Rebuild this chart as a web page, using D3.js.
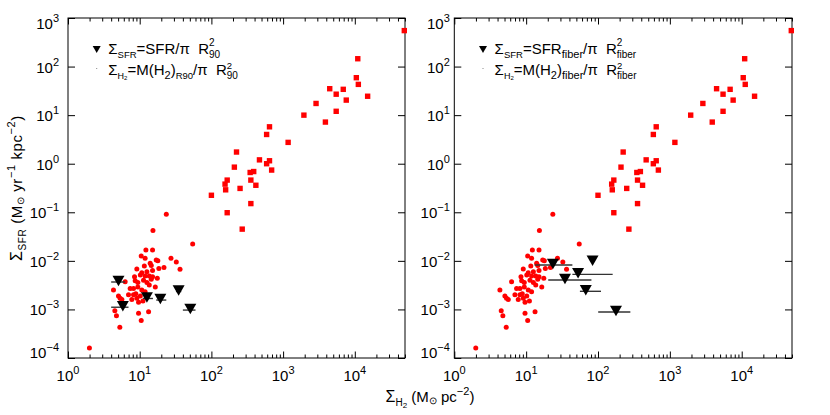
<!DOCTYPE html>
<html><head><meta charset="utf-8">
<script src="https://cdn.jsdelivr.net/npm/d3@7"></script>
<style>
body{margin:0;background:#fff}
text{font-family:"Liberation Sans",Arial,Helvetica,sans-serif;fill:#000}
</style>
</head><body><svg id="c" width="830" height="415"></svg>
<script>
// ---------- DATA ----------
// high-surface-density comparison sample (squares): Sigma_H2 [Msun/pc^2], Sigma_SFR [Msun/yr/kpc^2]
const sqX = [49000,11000,10500,11200,4470,6900,5500,15100,7600,2880,5500,1950,3890,646,589,1175,224,468,646,589,209,692,389,347,166,355,155,417,158,251,100,355,166,269];
const sqY = [550,145,59,43,35,34,27,24.5,20.4,17.4,12,10,7.2,5.75,4.0,2.75,1.74,1.2,1.15,1.0,0.85,0.74,0.69,0.66,0.46,0.46,0.38,0.36,0.29,0.31,0.224,0.151,0.098,0.045];
// low-surface-density comparison sample (circles)
const ciX = [1.99,15.3,54.8,12.2,15.1,10.5,11.9,27.3,32.4,14.0,17.0,17.9,9.12,11.6,14.5,18.5,21.8,36.5,10.7,12.6,15.1,8.47,10.2,11.9,13.6,15.1,17.6,8.65,6.27,11.3,14.5,9.42,12.6,13.6,16.5,4.31,7.36,8.20,9.42,10.7,5.06,6.98,8.20,8.83,10.2,11.9,5.33,7.76,9.12,9.64,11.1,4.50,4.74,9.64,13.3,10.5,5.28,5.64,23.5];
const ciY = [1.6e-4,0.042,0.0222,0.0167,0.0167,0.0126,0.0113,0.0113,0.0095,0.0089,0.0104,0.0101,0.0068,0.0078,0.0080,0.0070,0.0073,0.0067,0.0057,0.0060,0.0063,0.0047,0.0051,0.0049,0.0049,0.0047,0.0044,0.0039,0.0037,0.0040,0.0042,0.0036,0.0036,0.0032,0.0029,0.0025,0.0027,0.0027,0.0029,0.0025,0.0019,0.0020,0.0020,0.0021,0.0019,0.0023,0.0017,0.0016,0.0017,0.0014,0.0015,0.00094,0.00074,0.00083,0.00090,0.00059,0.00043,0.0016,0.091];
// upper limits, R90 apertures (left panel)
const tLX   = [5.06,5.82,12.6,19.4,34.9,50.8];
const tLY   = [0.00367,0.00111,0.00168,0.00156,0.00234,0.00097];
const tLXlo = [4.0,4.0,11.1,17.0,32.0,40.0];
const tLXhi = [6.27,6.98,15.3,23.5,38.0,60.0];
// upper limits, fiber apertures (right panel)
const tRX   = [23.6,84,52.8,34.7,67.6,178];
const tRY   = [0.00822,0.0096,0.00528,0.00404,0.00236,0.000885];
const tRXlo = [13.1,84,44,20.3,56,100.6];
const tRXhi = [44,84,160,81,110,282];
// axes
const xDomain = [1, Math.pow(10,4.7)];
const yDomain = [1e-4, 1e3];
const xMajor = [1,10,100,1000,10000];
const xMajorExp = ["0","1","2","3","4"];
const yMajor = [1e-4,1e-3,1e-2,1e-1,1,10,100,1000];
const yMajorExp = ["\u22124","\u22123","\u22122","\u22121","0","1","2","3"];

// ---------- DRAW ----------
const svg = d3.select("#c");
svg.append("rect").attr("width",830).attr("height",415).attr("fill","#fff");
const NB = "\u00a0";

function rich(parent, x, y, parts, opts = {}) {
  const g = parent.append("g");
  let cx = 0, prevStart = 0;
  parts.forEach(p => {
    const start = p.stack ? prevStart : cx;
    const t = g.append("text").attr("x", start).attr("y", p.dy || 0)
      .style("font-size", p.s + "px").text(p.t);
    if (opts.ls) t.style("letter-spacing", opts.ls + "px");
    const w = t.node().getComputedTextLength();
    if (p.stack) cx = Math.max(cx, start + w);
    else { prevStart = start; cx = start + w; }
  });
  let off = 0;
  if (opts.anchor === "middle") off = -cx / 2;
  else if (opts.anchor === "end") off = -cx;
  g.attr("transform", `translate(${x},${y}) rotate(${opts.rotate || 0}) translate(${off},0)`);
  return g;
}

const Y0 = 18, Y1 = 358;
const panels = [
  {x0: 68, x1: 405, lab: 9, tX: tLX, tY: tLY, lo: tLXlo, hi: tLXhi, key: "R90"},
  {x0: 454.3, x1: 792, lab: 4.5, tX: tRX, tY: tRY, lo: tRXlo, hi: tRXhi, key: "fiber"}
];

const xMinor = [];
for (let d = 0; d <= 4; d++) for (let m = 2; m <= 9; m++) {
  const v = m * Math.pow(10, d);
  if (v <= xDomain[1]) xMinor.push(v);
}

function tri(w, h) { return `M${-w/2},${-h/2}L${w/2},${-h/2}L0,${h/2}Z`; }

panels.forEach(P => {
  const x = d3.scaleLog().domain(xDomain).range([P.x0, P.x1]);
  const y = d3.scaleLog().domain(yDomain).range([Y1, Y0]);
  const g = svg.append("g");

  // axes ticks (inward)
  const axG = g.append("g");
  axG.append("g").attr("transform", `translate(0,${Y1})`)
    .call(d3.axisBottom(x).tickValues(xMajor).tickSize(-6.5).tickSizeOuter(0).tickFormat(""));
  axG.append("g").attr("transform", `translate(0,${Y1})`)
    .call(d3.axisBottom(x).tickValues(xMinor).tickSize(-3.5).tickSizeOuter(0).tickFormat(""));
  axG.append("g").attr("transform", `translate(0,${Y0})`)
    .call(d3.axisTop(x).tickValues(xMajor).tickSize(-6.5).tickSizeOuter(0).tickFormat(""));
  axG.append("g").attr("transform", `translate(0,${Y0})`)
    .call(d3.axisTop(x).tickValues(xMinor).tickSize(-3.5).tickSizeOuter(0).tickFormat(""));
  axG.append("g").attr("transform", `translate(${P.x0},0)`)
    .call(d3.axisLeft(y).tickValues(yMajor).tickSize(-7).tickSizeOuter(0).tickFormat(""));
  axG.append("g").attr("transform", `translate(${P.x1},0)`)
    .call(d3.axisRight(y).tickValues(yMajor).tickSize(-7).tickSizeOuter(0).tickFormat(""));
  axG.selectAll(".domain").remove();
  axG.selectAll("line").attr("stroke", "#000").attr("stroke-width", 1);

  g.append("rect").attr("x", P.x0).attr("y", Y0).attr("width", P.x1 - P.x0).attr("height", Y1 - Y0)
    .attr("fill", "none").attr("stroke", "#000").attr("stroke-width", 1);

  // tick labels
  xMajor.forEach((v, i) => {
    rich(g, x(v), Y1 + 23, [{t: "10", s: 15}, {t: xMajorExp[i], s: 11, dy: -7}], {anchor: "middle"});
  });
  yMajor.forEach((v, i) => {
    let yy = y(v) + 6;
    if (i === yMajor.length - 1) yy += 5;
    if (i === 0) yy -= 6;
    rich(g, P.x0 - P.lab, yy, [{t: "10", s: 15}, {t: yMajorExp[i], s: 11, dy: -7}], {anchor: "end"});
  });

  // comparison samples
  g.append("g").selectAll("circle").data(ciX.map((d, i) => [d, ciY[i]])).join("circle")
    .attr("cx", d => x(d[0])).attr("cy", d => y(d[1])).attr("r", 2.5).attr("fill", "#ff0000");
  g.append("g").selectAll("rect").data(sqX.map((d, i) => [d, sqY[i]])).join("rect")
    .attr("x", d => x(d[0]) - 2.7).attr("y", d => y(d[1]) - 2.7).attr("width", 5.4).attr("height", 5.4)
    .attr("fill", "#ff0000");

  // limits
  const td = P.tX.map((d, i) => ({x: d, y: P.tY[i], lo: P.lo[i], hi: P.hi[i]}));
  g.append("g").selectAll("line").data(td).join("line")
    .attr("x1", d => x(d.lo)).attr("x2", d => x(d.hi))
    .attr("y1", d => y(d.y)).attr("y2", d => y(d.y))
    .attr("stroke", "#333").attr("stroke-width", 1.4);
  g.append("g").selectAll("path").data(td).join("path")
    .attr("transform", d => `translate(${x(d.x)},${y(d.y) - 1})`)
    .attr("d", tri(12, 10.5)).attr("fill", "#000");

  // legend
  const lx = P.x0 + 28.7, tx = P.x0 + 40.3;
  g.append("path").attr("transform", `translate(${lx},49.5)`).attr("d", tri(8, 7)).attr("fill", "#000");
  g.append("rect").attr("x", lx - 0.5).attr("y", 68).attr("width", 1).attr("height", 1).attr("fill", "#888");
  if (P.key === "R90") {
    rich(g, tx, 54, [{t: "\u03a3", s: 15}, {t: "SFR", s: 9.5, dy: 3.5}, {t: "=SFR/\u03c0" + NB + NB + "R", s: 15},
      {t: "2", s: 10, dy: -8}, {t: "90", s: 10, dy: 4, stack: true}]);
    rich(g, tx, 75, [{t: "\u03a3", s: 15}, {t: "H", s: 9, dy: 3.5}, {t: "2", s: 6, dy: 5}, {t: "=M(H", s: 15},
      {t: "2", s: 11, dy: 4}, {t: ")", s: 15}, {t: "R90", s: 9.5, dy: 4}, {t: "/\u03c0" + NB + NB + "R", s: 15},
      {t: "2", s: 9.5, dy: -6}, {t: "90", s: 10, dy: 4, stack: true}]);
  } else {
    rich(g, tx, 54, [{t: "\u03a3", s: 15}, {t: "SFR", s: 9.5, dy: 3.5}, {t: "=SFR", s: 15}, {t: "fiber", s: 11, dy: 4},
      {t: "/\u03c0" + NB + NB + "R", s: 15}, {t: "2", s: 10, dy: -8}, {t: "fiber", s: 10, dy: 4, stack: true}]);
    rich(g, tx, 75, [{t: "\u03a3", s: 15}, {t: "H", s: 9, dy: 3.5}, {t: "2", s: 6, dy: 5}, {t: "=M(H", s: 15},
      {t: "2", s: 11, dy: 4}, {t: ")", s: 15}, {t: "fiber", s: 11, dy: 4}, {t: "/\u03c0" + NB + NB + "R", s: 15},
      {t: "2", s: 9.5, dy: -6}, {t: "fiber", s: 10, dy: 4, stack: true}]);
  }
});

// axis titles
rich(svg, 430, 402, [{t: "\u03a3", s: 16}, {t: "H", s: 10, dy: 4}, {t: "2", s: 8, dy: 6},
  {t: NB + "(M", s: 15}, {t: "\u2299", s: 10, dy: 2}, {t: NB + "pc", s: 15}, {t: "\u22122", s: 11, dy: -7}, {t: ")", s: 15}],
  {anchor: "middle"});
rich(svg, 22, 188, [{t: "\u03a3", s: 16}, {t: "SFR", s: 10, dy: 4}, {t: NB + "(M", s: 15}, {t: "\u2299", s: 10, dy: 2},
  {t: NB + "yr", s: 15}, {t: "\u22121", s: 11, dy: -7}, {t: NB + "kpc", s: 15}, {t: "\u22122", s: 11, dy: -7}, {t: ")", s: 15}],
  {anchor: "middle", rotate: -90, ls: 0.6});
</script></body></html>
